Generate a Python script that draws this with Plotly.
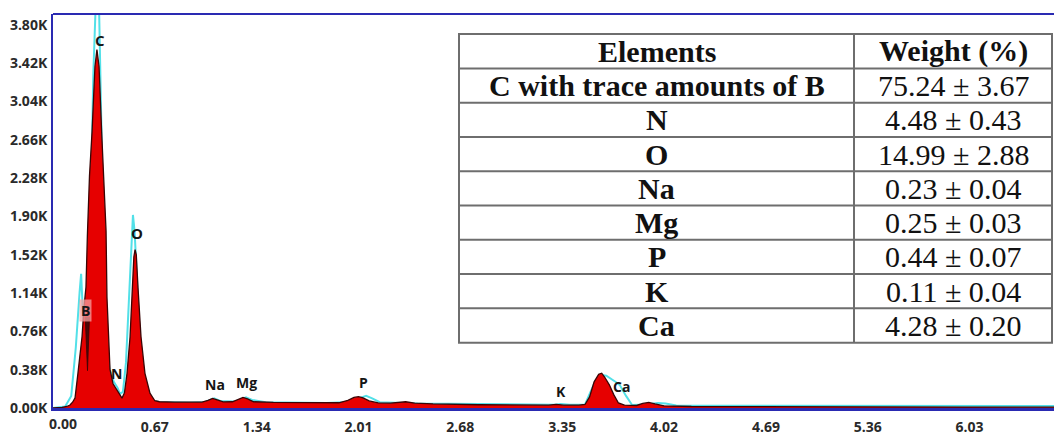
import plotly.graph_objects as go

# ---------------- data ----------------
# red (measured) spectrum: energy (keV) and counts
red_kev = [0.00, 0.06, 0.09, 0.112, 0.13, 0.145, 0.164, 0.180, 0.191, 0.204, 0.217, 0.226,
           0.240, 0.257, 0.276, 0.289, 0.303, 0.320, 0.335, 0.349, 0.355, 0.362, 0.375, 0.395,
           0.420, 0.440, 0.454, 0.470, 0.487, 0.507, 0.520, 0.532, 0.540, 0.548, 0.559, 0.579,
           0.605, 0.638, 0.670, 0.70, 0.80, 0.90, 0.98, 1.02, 1.05, 1.08, 1.12, 1.18, 1.22, 1.25,
           1.28, 1.32, 1.45, 1.60, 1.75, 1.88, 1.94, 1.98, 2.01, 2.04, 2.08, 2.14, 2.22, 2.28,
           2.32, 2.38, 2.50, 2.80, 3.10, 3.26, 3.31, 3.36, 3.46, 3.50, 3.53, 3.56, 3.59, 3.61,
           3.63, 3.66, 3.69, 3.72, 3.76, 3.84, 3.88, 3.92, 3.96, 4.02, 4.20, 4.60, 5.20, 6.00, 6.60]
red_counts = [0, 5, 15, 30, 60, 100, 344, 560, 707, 1000, 1200, 1700,
              2300, 2740, 3388, 3555, 3388, 2740, 2200, 1758, 1100, 776, 383, 240,
              175, 125, 98, 150, 344, 707, 1200, 1500, 1570, 1520, 1200, 707,
              344, 147, 72, 62, 58, 55, 58, 75, 95, 80, 60, 62, 85, 105,
              90, 62, 55, 52, 50, 52, 75, 105, 112, 100, 70, 50, 48, 60,
              62, 48, 40, 32, 28, 28, 35, 28, 28, 35, 110, 260, 335, 345,
              305, 230, 130, 50, 28, 25, 45, 55, 40, 22, 15, 12, 10, 9, 8]

# dark valley line between the B and C peaks (drawn inside the red fill)
dip_kev = [0.212, 0.227, 0.240, 0.212]
dip_counts = [900, 370, 900, 900]

# cyan overlay spectrum
cyan_kev = [0.00, 0.08, 0.12, 0.15, 0.175, 0.185, 0.195, 0.205, 0.22, 0.245, 0.265, 0.280,
            0.290, 0.300, 0.315, 0.33, 0.35, 0.37, 0.40, 0.425, 0.44, 0.46, 0.48, 0.50, 0.515,
            0.526, 0.537, 0.55, 0.566, 0.58, 0.60, 0.63, 0.70, 0.90, 1.00, 1.06, 1.10, 1.20,
            1.27, 1.31, 1.40, 1.80, 1.95, 2.02, 2.06, 2.10, 2.15, 2.40, 3.00, 3.30, 3.34, 3.40,
            3.50, 3.56, 3.60, 3.64, 3.70, 3.73, 3.77, 3.81, 3.90, 3.98, 4.03, 4.10, 4.60, 5.50, 6.60]
cyan_counts = [0, 15, 120, 600, 1150, 1330, 1000, 800, 900, 1700, 3300, 4300,
               4400, 4200, 3000, 1900, 900, 400, 260, 200, 140, 160, 450, 1100, 1700,
               1915, 1750, 1300, 850, 450, 180, 80, 60, 55, 60, 95, 70, 65,
               105, 80, 58, 50, 60, 100, 120, 95, 58, 45, 35, 33, 40, 32,
               35, 240, 330, 320, 260, 225, 120, 30, 35, 50, 45, 25, 22, 20, 20]

# element peak labels
peak_names = ["C", "O", "B", "N", "Na", "Mg", "P", "K", "Ca"]
peak_kev = [0.309, 0.553, 0.217, 0.420, 1.066, 1.276, 2.040, 3.340, 3.740]
peak_lab_counts = [3654, 1738, 972, 344, 236, 256, 256, 167, 216]

# axis ticks
x_tick_vals = [0.00, 0.67, 1.34, 2.01, 2.68, 3.35, 4.02, 4.69, 5.36, 6.03]
x_tick_text = ["0.00", "0.67", "1.34", "2.01", "2.68", "3.35", "4.02", "4.69", "5.36", "6.03"]
y_tick_vals = [0, 380, 760, 1140, 1520, 1900, 2280, 2660, 3040, 3420, 3800]
y_tick_text = ["0.00K", "0.38K", "0.76K", "1.14K", "1.52K", "1.90K", "2.28K", "2.66K",
               "3.04K", "3.42K", "3.80K"]

# table
table_header = ["Elements", "Weight (%)"]
table_elements = ["C with trace amounts of B", "N", "O", "Na", "Mg", "P", "K", "Ca"]
weight_mean = ["75.24", "4.48", "14.99", "0.23", "0.25", "0.44", "0.11", "4.28"]
weight_err = ["3.67", "0.43", "2.88", "0.04", "0.03", "0.07", "0.04", "0.20"]

# ---------------- layout geometry ----------------
W_FIG, H_FIG = 1054, 436
L, R, T, B = 53, 1054, 14, 412
PW, PH = R - L, B - T


def pxx(x):
    return (x - L) / PW


def pxy(y):
    return (B - y) / PH


BLUE = "#2a2ab2"
RED = "#e60000"
CYAN = "#52e0e8"
tick_font = dict(family="Open Sans", size=14, color="#2a2a2a", weight="bold")
peak_font = dict(family="Open Sans", size=14, color="#151515", weight="bold")
peak_font_big = dict(family="Open Sans", size=15, color="#151515", weight="bold")

fig = go.Figure()

fig.add_trace(go.Scatter(x=cyan_kev, y=cyan_counts, mode="lines",
                         line=dict(color=CYAN, width=2), hoverinfo="skip", showlegend=False))
fig.add_trace(go.Scatter(x=red_kev, y=red_counts, mode="lines", fill="tozeroy",
                         fillcolor=RED, line=dict(color="#3a0505", width=1.3),
                         hoverinfo="skip", showlegend=False))
fig.add_trace(go.Scatter(x=dip_kev, y=dip_counts, mode="lines", fill="toself",
                         fillcolor="#4a0808", line=dict(color="#3a0505", width=0.8),
                         hoverinfo="skip", showlegend=False))

annotations = []
for name, xk, yc in zip(peak_names, peak_kev, peak_lab_counts):
    annotations.append(dict(x=xk, y=yc, xref="x", yref="y", text=name, showarrow=False,
                            font=peak_font_big if name in ("C", "O") else peak_font,
                            bgcolor="rgba(245,160,160,0.75)" if name == "B" else None,
                            borderpad=1))

# "0.00" x label is offset to the right in the original
annotations.append(dict(x=pxx(63), y=pxy(428), xref="paper", yref="paper", text="0.00",
                        showarrow=False, font=tick_font, xanchor="center", yanchor="middle"))

# table geometry
tx0, tx1, tx2 = 459, 854, 1052
ty0, row_h = 34.3, 34.63
n_rows = len(table_elements) + 1
shapes = []
shapes.append(dict(type="rect", xref="paper", yref="paper", x0=pxx(tx0), x1=pxx(tx2),
                   y0=pxy(ty0), y1=pxy(ty0 + n_rows * row_h), fillcolor="white",
                   line=dict(width=0), layer="above"))
for i in range(n_rows + 1):
    yy = ty0 + i * row_h
    shapes.append(dict(type="line", xref="paper", yref="paper", x0=pxx(tx0 - 1), x1=pxx(tx2 + 1),
                       y0=pxy(yy), y1=pxy(yy), line=dict(color="#6e6e6e", width=2), layer="above"))
for xx in (tx0, tx1, tx2):
    shapes.append(dict(type="line", xref="paper", yref="paper", x0=pxx(xx), x1=pxx(xx),
                       y0=pxy(ty0), y1=pxy(ty0 + n_rows * row_h),
                       line=dict(color="#6e6e6e", width=2), layer="above"))
# top border of plot
shapes.append(dict(type="line", xref="paper", yref="paper", x0=0, x1=1, y0=1, y1=1,
                   line=dict(color=BLUE, width=2)))

c1 = (tx0 + tx1) / 2
c2 = (tx1 + tx2) / 2
bold_font = dict(family="Liberation Serif", size=30, color="#111111", weight="bold")
reg_font = dict(family="Liberation Serif", size=30, color="#111111")

annotations.append(dict(x=pxx(c1), y=pxy(ty0 + row_h / 2), xref="paper", yref="paper",
                        text=table_header[0], showarrow=False, font=bold_font,
                        xanchor="center", yanchor="middle"))
annotations.append(dict(x=pxx(c2), y=pxy(ty0 + row_h / 2), xref="paper", yref="paper",
                        text=table_header[1], showarrow=False, font=bold_font,
                        xanchor="center", yanchor="middle"))
for i, (el, m, e) in enumerate(zip(table_elements, weight_mean, weight_err)):
    yc = ty0 + (i + 1.5) * row_h
    annotations.append(dict(x=pxx(c1), y=pxy(yc), xref="paper", yref="paper", text=el,
                            showarrow=False, font=bold_font, xanchor="center", yanchor="middle"))
    annotations.append(dict(x=pxx(c2), y=pxy(yc), xref="paper", yref="paper",
                            text=f"{m} \u00b1 {e}", showarrow=False, font=reg_font,
                            xanchor="center", yanchor="middle"))

fig.update_layout(
    width=W_FIG, height=H_FIG,
    margin=dict(l=L, r=W_FIG - R, t=T, b=H_FIG - B, pad=0),
    paper_bgcolor="white", plot_bgcolor="white",
    showlegend=False,
    xaxis=dict(range=[0, (R - L) / 152.0], tickmode="array", tickvals=x_tick_vals,
               ticktext=[""] + x_tick_text[1:], showgrid=False, zeroline=False,
               showline=True, linecolor=BLUE, linewidth=3, ticks="",
               tickfont=tick_font, ticklabelstandoff=4),
    yaxis=dict(range=[0, 3908], tickmode="array", tickvals=y_tick_vals, ticktext=y_tick_text,
               showgrid=False, zeroline=False, showline=True, linecolor=BLUE, linewidth=2,
               ticks="", tickfont=tick_font, ticklabelstandoff=1),
    shapes=shapes,
    annotations=annotations,
)

fig.write_html("out.html")
